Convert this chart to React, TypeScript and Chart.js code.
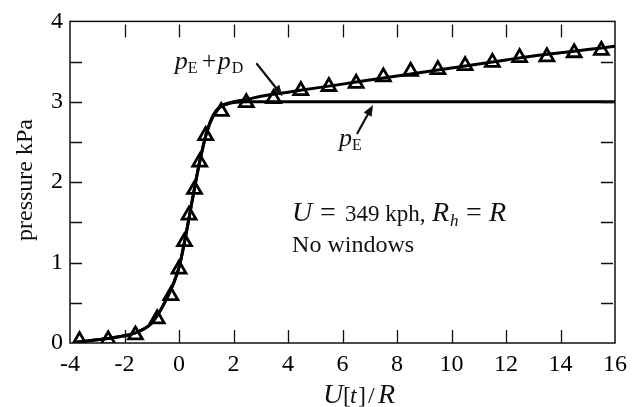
import React, { useEffect, useRef } from 'react';
import { Chart, registerables } from 'chart.js';

Chart.register(...registerables);

// Smooth curves
const curveX = [-3.8, -3, -2, -1.5, -1, -0.5, 0, 0.25, 0.5, 0.75, 1.0, 1.25, 1.5, 1.75, 2.0, 2.5, 3, 4, 5, 6, 7, 8, 9, 10, 11, 12, 13, 14, 15, 16];
const pE = [0.01, 0.04, 0.09, 0.14, 0.25, 0.52, 0.94, 1.34, 1.8, 2.24, 2.6, 2.82, 2.93, 2.97, 2.99, 3.0, 3.0, 3.0, 3.0, 3.0, 3.0, 3.0, 3.0, 3.0, 3.0, 3.0, 3.0, 3.0, 3.0, 3.0];
const pEpD = [0.01, 0.04, 0.09, 0.14, 0.25, 0.52, 0.94, 1.34, 1.8, 2.24, 2.6, 2.83, 2.94, 2.98, 3.0, 3.03, 3.07, 3.12, 3.17, 3.22, 3.27, 3.32, 3.37, 3.42, 3.47, 3.52, 3.57, 3.61, 3.65, 3.69];

// Measured points (triangles)
const measX = [-3.65, -2.6, -1.6, -0.8, -0.3, 0.0, 0.2, 0.37, 0.57, 0.76, 0.98, 1.55, 2.47, 3.47, 4.47, 5.5, 6.5, 7.5, 8.5, 9.5, 10.5, 11.5, 12.5, 13.5, 14.5, 15.5];
const measY = [0.03, 0.04, 0.1, 0.3, 0.59, 0.92, 1.26, 1.59, 1.91, 2.25, 2.58, 2.88, 2.99, 3.04, 3.14, 3.19, 3.23, 3.31, 3.38, 3.4, 3.45, 3.49, 3.55, 3.56, 3.61, 3.64];

// Axis ticks
const xMin = -4, xMax = 16, xStep = 2;
const yMin = 0, yMax = 4, yStep = 1;
const xTickMarks = [-2, 0, 2, 4, 6, 8, 10, 12, 14];
const yTickMarks = [0.5, 1, 1.5, 2, 2.5, 3, 3.5];

const SERIF = '"Liberation Serif", "Times New Roman", serif';

type Seg = { t: string; italic?: boolean; size?: number; dy?: number; at?: number };

function drawRich(ctx: CanvasRenderingContext2D, segs: Seg[], x: number, y: number) {
  let cx = x;
  ctx.textBaseline = 'alphabetic';
  ctx.textAlign = 'left';
  for (const s of segs) {
    if (s.at !== undefined) cx = x + s.at;
    ctx.font = `${s.italic ? 'italic ' : ''}${s.size ?? 24}px ${SERIF}`;
    ctx.fillText(s.t, cx, y + (s.dy ?? 0));
    cx += ctx.measureText(s.t).width;
  }
  return cx;
}

function arrow(ctx: CanvasRenderingContext2D, x0: number, y0: number, x1: number, y1: number) {
  const ang = Math.atan2(y1 - y0, x1 - x0);
  const hl = 11, hw = 4.5;
  ctx.beginPath();
  ctx.moveTo(x0, y0);
  ctx.lineTo(x1 - Math.cos(ang) * hl * 0.8, y1 - Math.sin(ang) * hl * 0.8);
  ctx.lineWidth = 2.2;
  ctx.stroke();
  ctx.beginPath();
  ctx.moveTo(x1, y1);
  ctx.lineTo(x1 - Math.cos(ang) * hl + Math.sin(ang) * hw, y1 - Math.sin(ang) * hl - Math.cos(ang) * hw);
  ctx.lineTo(x1 - Math.cos(ang) * hl - Math.sin(ang) * hw, y1 - Math.sin(ang) * hl + Math.cos(ang) * hw);
  ctx.closePath();
  ctx.fill();
}

const decorPlugin = {
  id: 'decor',
  afterDraw(chart: any) {
    const { ctx, chartArea: a, scales } = chart;
    const x = scales.x, y = scales.y;
    const X = (v: number) => x.getPixelForValue(v);
    const Y = (v: number) => y.getPixelForValue(v);
    ctx.save();
    ctx.strokeStyle = '#111';
    ctx.fillStyle = '#111';
    ctx.lineWidth = 1.5;
    ctx.strokeRect(a.left, a.top, a.right - a.left, a.bottom - a.top);
    ctx.lineWidth = 1.3;
    ctx.beginPath();
    for (const v of xTickMarks) {
      const px = Math.round(X(v)) + 0.5;
      ctx.moveTo(px, a.bottom);
      ctx.lineTo(px, a.bottom - 13);
      ctx.moveTo(px, a.top + 3);
      ctx.lineTo(px, a.top + 16);
    }
    for (const v of yTickMarks) {
      const py = Math.round(Y(v)) + 0.5;
      ctx.moveTo(a.left, py);
      ctx.lineTo(a.left + 12, py);
      ctx.moveTo(a.right - 2, py);
      ctx.lineTo(a.right - 14, py);
    }
    ctx.stroke();

    // annotations
    drawRich(ctx, [
      { t: 'p', italic: true, size: 26 },
      { t: 'E', size: 16, dy: 4 },
      { t: '+', size: 26, at: 27 },
      { t: 'p', italic: true, size: 26, at: 43 },
      { t: 'D', size: 16, dy: 4, at: 57 },
    ], X(-0.16), Y(3.41));
    arrow(ctx, X(2.84), Y(3.48), X(3.8), Y(3.07));

    drawRich(ctx, [
      { t: 'p', italic: true, size: 26 },
      { t: 'E', size: 16, dy: 4 },
    ], X(5.87), Y(2.45));
    arrow(ctx, X(6.53), Y(2.6), X(7.12), Y(2.96));

    drawRich(ctx, [
      { t: 'U', italic: true, size: 28 },
      { t: '=', size: 28, at: 28 },
      { t: '349 kph,', size: 23, at: 53 },
      { t: 'R', italic: true, size: 28, at: 140 },
      { t: 'h', italic: true, size: 17, dy: 5, at: 158 },
      { t: '=', size: 28, at: 174 },
      { t: 'R', italic: true, size: 28, at: 197 },
    ], X(4.15), Y(1.52));
    drawRich(ctx, [{ t: 'No windows' }], X(4.15), Y(1.13));

    // axis titles
    drawRich(ctx, [
      { t: 'U', italic: true, size: 28 },
      { t: '[', at: 20 },
      { t: 't', italic: true, at: 27 },
      { t: ']', at: 35 },
      { t: '/', at: 45 },
      { t: 'R', italic: true, size: 28, at: 55 },
    ], 323, 403);

    ctx.translate(32, 180);
    ctx.rotate(-Math.PI / 2);
    ctx.font = `24px ${SERIF}`;
    ctx.textAlign = 'center';
    ctx.textBaseline = 'alphabetic';
    ctx.fillText('pressure kPa', 0, 0);
    ctx.restore();
  },
};

export default function App() {
  const ref = useRef<HTMLCanvasElement | null>(null);
  useEffect(() => {
    if (!ref.current) return;
    const tickFont = { family: SERIF, size: 24 };
    const chart = new Chart(ref.current, {
      type: 'scatter',
      data: {
        datasets: [
          {
            label: 'pE + pD',
            data: curveX.map((v, i) => ({ x: v, y: pEpD[i] })),
            showLine: true,
            borderColor: '#000',
            borderWidth: 3,
            pointRadius: 0,
            cubicInterpolationMode: 'monotone',
          },
          {
            label: 'pE',
            data: curveX.map((v, i) => ({ x: v, y: pE[i] })),
            showLine: true,
            borderColor: '#000',
            borderWidth: 3,
            pointRadius: 0,
            cubicInterpolationMode: 'monotone',
          },
          {
            label: 'measured',
            data: measX.map((v, i) => ({ x: v, y: measY[i] })),
            showLine: false,
            pointStyle: 'triangle',
            pointRadius: 8,
            pointBorderWidth: 2.8,
            pointBorderColor: '#000',
            pointBackgroundColor: 'rgba(255,255,255,0)',
          },
        ],
      } as any,
      options: {
        responsive: false,
        animation: false,
        devicePixelRatio: 1,
        layout: { padding: { left: 0, top: 15, right: 17, bottom: 0 } },
        plugins: { legend: { display: false }, tooltip: { enabled: false } },
        scales: {
          x: {
            type: 'linear',
            min: xMin,
            max: xMax,
            ticks: { stepSize: xStep, font: tickFont, color: '#000', padding: 7, maxRotation: 0 },
            grid: { display: false, drawTicks: false },
            border: { display: false },
            afterFit: (s: any) => { s.height = 64; },
          },
          y: {
            type: 'linear',
            min: yMin,
            max: yMax,
            ticks: { stepSize: yStep, font: tickFont, color: '#000', padding: 7 },
            grid: { display: false, drawTicks: false },
            border: { display: false },
            afterFit: (s: any) => { s.width = 70; },
          },
        },
      } as any,
      plugins: [decorPlugin],
    });
    return () => chart.destroy();
  }, []);
  return (
    <div style={{ position: 'fixed', left: 0, top: 0, width: 634, height: 407, background: '#fff' }}>
      <canvas ref={ref} width={634} height={407} />
    </div>
  );
}
